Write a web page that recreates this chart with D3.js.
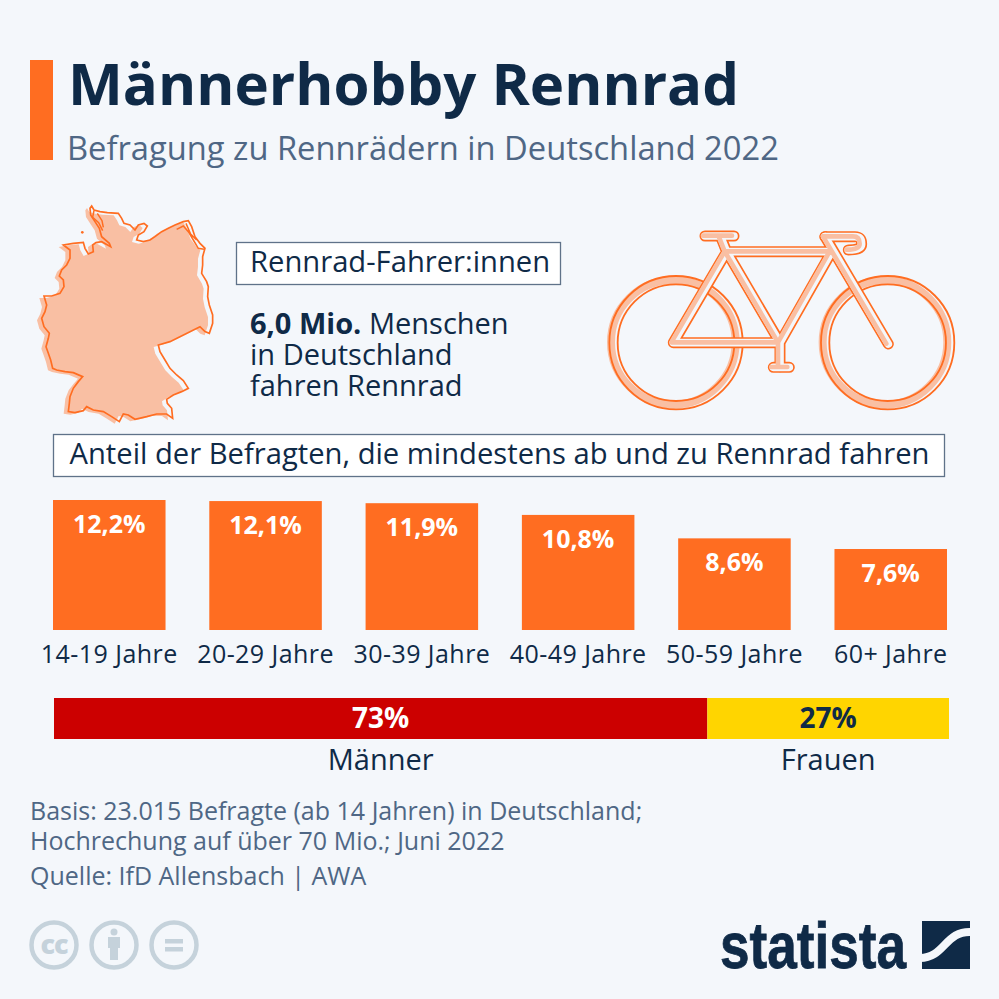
<!DOCTYPE html>
<html lang="de">
  <head>
    <meta charset="UTF-8" />
    <title>Männerhobby Rennrad</title>
    <script src="https://d3js.org/d3.v7.min.js"></script>
    <style>
      html,
      body {
        margin: 0;
        padding: 0;
        background-color: #f4f7fb;
      }
      svg {
        display: block;
        font-family: "Open Sans", sans-serif;
      }
    </style>
  </head>
  <body>
    <svg id="chart" width="999" height="999"></svg>

    <script>
      // Data
      const ageGroups = ["14-19 Jahre", "20-29 Jahre", "30-39 Jahre", "40-49 Jahre", "50-59 Jahre", "60+ Jahre"];
      const ageValues = [12.2, 12.1, 11.9, 10.8, 8.6, 7.6];
      const genderLabels = ["Männer", "Frauen"];
      const genderValues = [73, 27];
      const genderColors = ["#cc0000", "#ffd500"];

      const orange = "#ff6d21";
      const soft = "#f9bfa3";
      const navy = "#0f2a47";
      const slate = "#4f6785";
      const paper = "#f4f7fb";

      const svg = d3.select("#chart");

      // Small helper for the text lines
      function addText(str, x, y, size, color, weight, anchor) {
        return svg
          .append("text")
          .attr("x", x)
          .attr("y", y)
          .attr("fill", color)
          .attr("text-anchor", anchor || "start")
          .style("font-size", size + "px")
          .style("font-weight", weight || 400)
          .text(str);
      }

      // Several lines kept in one text element
      function addLines(lines, x, ys, size, color) {
        const t = svg.append("text").attr("fill", color).style("font-size", size + "px");
        lines.forEach((line, i) => {
          t.append("tspan").attr("x", x).attr("y", ys[i]).text(line);
        });
        return t;
      }

      // Header
      svg.append("rect").attr("x", 30).attr("y", 60).attr("width", 23).attr("height", 100).attr("fill", orange);
      addText("Männerhobby Rennrad", 68, 105, 58.2, navy, 700);
      addText("Befragung zu Rennrädern in Deutschland 2022", 67, 160, 32.7, slate);

      // Germany map, outline traced in 3x coordinates
      const mapPoints = [
        [215, 48], [222, 60], [240, 65], [262, 68], [295, 70], [305, 85], [312, 100], [330, 105], [345, 120],
        [355, 105], [372, 100], [382, 108], [372, 125], [355, 135], [350, 150], [370, 155], [390, 150], [405, 140],
        [425, 125], [445, 115], [465, 105], [490, 95], [505, 92], [515, 110], [525, 140], [540, 160], [555, 175],
        [548, 200], [548, 225], [545, 250], [560, 275], [565, 290], [563, 320], [568, 345], [578, 375], [578, 400],
        [568, 430], [555, 425], [540, 410], [510, 425], [480, 440], [450, 455], [415, 465], [420, 485], [435, 510],
        [450, 535], [470, 555], [490, 572], [505, 595], [485, 605], [460, 615], [440, 628], [442, 640], [455, 655],
        [458, 685], [440, 672], [410, 672], [380, 680], [345, 688], [325, 675], [310, 672], [298, 695], [275, 680],
        [250, 665], [220, 660], [200, 650], [190, 662], [165, 668], [145, 665], [148, 640], [150, 620], [160, 595],
        [175, 575], [188, 560], [160, 548], [135, 545], [110, 540], [98, 535], [92, 510], [85, 490], [78, 470],
        [85, 445], [88, 430], [72, 410], [65, 385], [75, 365], [80, 345], [72, 318], [95, 318], [120, 310],
        [132, 290], [130, 270], [118, 258], [125, 240], [140, 225], [150, 205], [150, 180], [130, 165], [160, 160],
        [190, 157], [195, 175], [205, 192], [220, 185], [218, 165], [228, 158], [245, 155], [272, 170], [268, 160],
        [245, 140], [238, 115], [225, 95], [212, 75], [210, 55],
      ];
      const mapLine = d3.line().curve(d3.curveLinearClosed);
      const map = svg.append("g").attr("transform", "translate(20,190) scale(0.3333)");
      map.append("path").attr("d", mapLine(mapPoints)).attr("fill", soft).attr("transform", "translate(-14,6)");
      map.append("path").attr("d", mapLine(mapPoints)).attr("fill", "none").attr("stroke", orange).attr("stroke-width", 5);
      // doubled coast lines and islands
      map.append("path")
        .attr("d", "M222,62 L218,82 L236,98 L248,122 M232,70 L246,92 L250,112 M470,118 L490,108 L505,125 L520,150 L535,175 L552,178 M498,100 L512,132 L530,150")
        .attr("fill", "none").attr("stroke", orange).attr("stroke-width", 4.5);
      map.append("circle").attr("cx", 187).attr("cy", 127).attr("r", 4).attr("fill", orange);

      // Boxed labels
      function addBox(x, y, w, h) {
        svg.append("rect").attr("x", x).attr("y", y).attr("width", w).attr("height", h)
          .attr("fill", "#fff").attr("stroke", "#5f7289").attr("stroke-width", 1.3);
      }
      addBox(236.5, 242.5, 324, 42);
      addText("Rennrad-Fahrer:innen", 250, 272, 29.2, navy);

      const info = addLines(["", "in Deutschland", "fahren Rennrad"], 250, [334, 365, 396], 29, navy);
      const first = info.select("tspan");
      first.append("tspan").style("font-weight", 700).text("6,0 Mio.");
      first.append("tspan").text(" Menschen");

      // Bicycle icon, 3x coordinates
      const bike = svg.append("g").attr("transform", "translate(590,220) scale(0.3333)");
      const frame = "M250,368 L410,95 H725 L570,368 Z M410,95 L570,368 M392,50 L410,95 M705,50 L895,372 M570,368 V440";
      const bars = "M345,48 H432 M550,442 H598 M705,50 H795 Q815,50 815,72 Q815,90 775,90";
      const wheelX = [258, 893];
      // soft band under the wheel outlines
      const softWheels = bike.append("g").attr("fill", "none").attr("stroke", soft).attr("transform", "translate(-8,-1)");
      wheelX.forEach((cx) => {
        softWheels.append("circle").attr("cx", cx).attr("cy", 368).attr("r", 187).attr("stroke-width", 24);
      });
      const rim = bike.append("g").attr("fill", "none").attr("stroke", orange).attr("stroke-width", 5.5);
      wheelX.forEach((cx) => {
        rim.append("circle").attr("cx", cx).attr("cy", 368).attr("r", 200);
        rim.append("circle").attr("cx", cx).attr("cy", 368).attr("r", 175);
      });
      const framePaths = [
        { d: frame, w: 33, c: orange },
        { d: bars, w: 33, c: orange },
        { d: frame, w: 23, c: paper },
        { d: bars, w: 23, c: paper },
      ];
      framePaths.forEach((p) => {
        bike.append("path").attr("d", p.d).attr("fill", "none").attr("stroke", p.c).attr("stroke-width", p.w)
          .attr("stroke-linejoin", "round").attr("stroke-linecap", "round");
      });
      // soft band over the frame, slightly to the left
      const softFrame = bike.append("g").attr("fill", "none").attr("stroke", soft).attr("stroke-width", 14)
        .attr("stroke-linejoin", "round").attr("stroke-linecap", "round").attr("transform", "translate(-6,-1)");
      softFrame.append("path").attr("d", frame);
      softFrame.append("path").attr("d", bars);

      // Section heading
      addBox(53.5, 434.5, 891, 42);
      addText("Anteil der Befragten, die mindestens ab und zu Rennrad fahren", 499.5, 464, 29.2, navy, 400, "middle");

      // Bars
      const x = d3.scaleBand().domain(ageGroups).range([53, 947]).paddingInner(0.28);
      const y = d3.scaleLinear().domain([0, 12.2]).range([630, 500]);
      const fmt = (v) => d3.format(".1f")(v).replace(".", ",") + "%";

      svg
        .append("g")
        .selectAll("rect")
        .data(ageValues)
        .enter()
        .append("rect")
        .attr("x", (d, i) => x(ageGroups[i]))
        .attr("y", (d) => y(d))
        .attr("width", x.bandwidth())
        .attr("height", (d) => y(0) - y(d))
        .attr("fill", orange);

      svg
        .append("g")
        .selectAll("text")
        .data(ageValues)
        .enter()
        .append("text")
        .attr("x", (d, i) => x(ageGroups[i]) + x.bandwidth() / 2)
        .attr("y", (d) => y(d) + 33)
        .attr("text-anchor", "middle")
        .attr("fill", "#fff")
        .style("font-size", "25px")
        .style("font-weight", 700)
        .text((d) => fmt(d));

      const xAxis = svg
        .append("g")
        .attr("transform", "translate(0,642)")
        .call(d3.axisBottom(x).tickSize(0));
      xAxis.select(".domain").remove();
      xAxis.selectAll("text").attr("fill", navy).style("font-size", "25px").style("letter-spacing", "0.45px")
        .style("font-family", '"Open Sans", sans-serif');

      // Stacked gender bar
      const g = d3.scaleLinear().domain([0, 100]).range([54, 949]);
      let start = 0;
      genderValues.forEach((v, i) => {
        const mid = g(start + v / 2);
        svg.append("rect").attr("x", g(start)).attr("y", 698).attr("width", g(start + v) - g(start)).attr("height", 41).attr("fill", genderColors[i]);
        addText(v + "%", mid, 728, 28, i === 0 ? "#fff" : navy, 700, "middle");
        addText(genderLabels[i], mid, 770, 29, navy, 400, "middle");
        start += v;
      });

      // Footer notes
      addLines(
        ["Basis: 23.015 Befragte (ab 14 Jahren) in Deutschland;", "Hochrechung auf über 70 Mio.; Juni 2022", "Quelle: IfD Allensbach | AWA"],
        30,
        [820, 850, 885],
        25,
        slate
      );

      // Licence icons
      const iconColor = "#c5d2db";
      const icons = svg.append("g");
      [54, 114, 174].forEach((cx) => {
        icons.append("circle").attr("cx", cx).attr("cy", 945).attr("r", 22.5).attr("fill", "none").attr("stroke", iconColor).attr("stroke-width", 4.5);
      });
      icons.append("text").attr("x", 54).attr("y", 954).attr("text-anchor", "middle").attr("fill", iconColor)
        .style("font-size", "27px").style("font-weight", 800).style("letter-spacing", "-1px").text("cc");
      icons.append("circle").attr("cx", 114).attr("cy", 932).attr("r", 3.5).attr("fill", iconColor);
      icons.append("path").attr("d", "M108,937 H120 V948 H118 V960 H110 V948 H108 Z").attr("fill", iconColor);
      icons.append("rect").attr("x", 165).attr("y", 939).attr("width", 18).attr("height", 4.5).attr("fill", iconColor);
      icons.append("rect").attr("x", 165).attr("y", 947).attr("width", 18).attr("height", 4.5).attr("fill", iconColor);

      // Statista logo
      svg.append("text").attr("x", 720).attr("y", 968).attr("textLength", 186).attr("lengthAdjust", "spacingAndGlyphs")
        .attr("fill", navy).attr("stroke", navy).attr("stroke-width", 0.8)
        .style("font-family", '"Liberation Sans Narrow", "Liberation Sans", sans-serif')
        .style("font-size", "64px").style("font-weight", 700).text("statista");
      svg.append("rect").attr("x", 922).attr("y", 921).attr("width", 48).attr("height", 48).attr("fill", navy);
      svg.append("path").attr("d", "M920,958 C945,958 945,930 972,932").attr("fill", "none").attr("stroke", paper).attr("stroke-width", 8);
    </script>
  </body>
</html>
